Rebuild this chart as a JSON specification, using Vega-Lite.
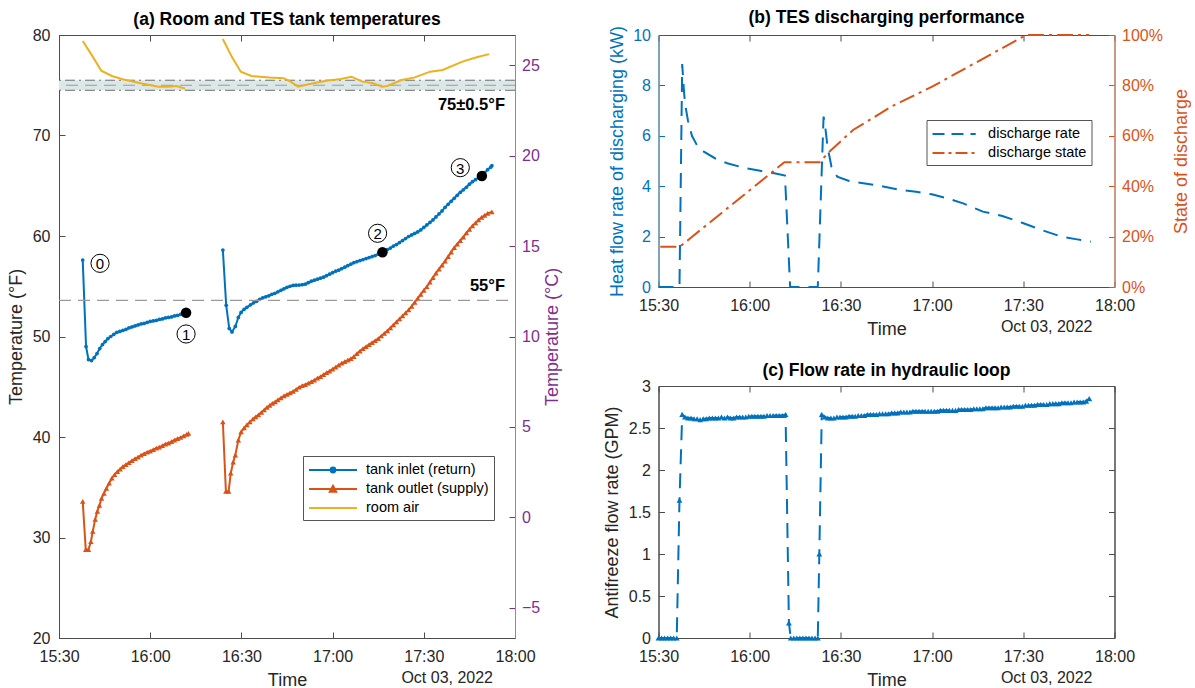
{
  "$schema": "https://vega.github.io/schema/vega-lite/v6.json",
  "background": "white",
  "padding": {"left": 6, "top": 8, "right": 0, "bottom": 0},
  "config": {
    "font": "Liberation Sans",
    "view": {"stroke": "#4d4d4d", "strokeWidth": 1},
    "axis": {"labelFont": "Liberation Sans", "labelFontSize": 16, "labelColor": "#262626", "titleFont": "Liberation Sans", "titleFontSize": 18, "titleFontWeight": "normal", "titleColor": "#262626", "domainColor": "#4d4d4d", "tickColor": "#4d4d4d", "tickSize": -6, "labelPadding": 16, "grid": false, "labelFlush": false, "labelOverlap": false},
    "title": {"font": "Liberation Sans", "fontSize": 17.5, "fontWeight": "bold", "color": "#000000", "offset": -1, "anchor": "middle"},
    "legend": {"labelFont": "Liberation Sans", "labelFontSize": 14.5, "labelColor": "#000000", "strokeColor": "#555555", "fillColor": "#ffffff", "padding": 5, "rowPadding": 3, "symbolStrokeWidth": 2}
  },
  "datasets": {
    "inlet": [
      {"m":7.8,"v":57.6,"g":1},{"m":8.9,"v":49.0,"g":1},{"m":9.7,"v":47.7,"g":1},{"m":10.7,"v":47.6,"g":1},{"m":11.6,"v":47.9,"g":1},{"m":12.5,"v":48.3,"g":1},{"m":13.4,"v":48.8,"g":1},{"m":14.3,"v":49.2,"g":1},{"m":15.2,"v":49.5,"g":1},{"m":16.1,"v":49.8,"g":1},{"m":17,"v":50.0,"g":1},{"m":18,"v":50.2,"g":1},{"m":19,"v":50.4,"g":1},{"m":20,"v":50.5,"g":1},{"m":21,"v":50.6,"g":1},{"m":22,"v":50.7,"g":1},{"m":23,"v":50.85,"g":1},{"m":24,"v":50.95,"g":1},{"m":25,"v":51.05,"g":1},{"m":26,"v":51.15,"g":1},{"m":27,"v":51.25,"g":1},{"m":28,"v":51.3,"g":1},{"m":29,"v":51.4,"g":1},{"m":30,"v":51.5,"g":1},{"m":31,"v":51.55,"g":1},{"m":32,"v":51.6,"g":1},{"m":33,"v":51.7,"g":1},{"m":34,"v":51.75,"g":1},{"m":35,"v":51.85,"g":1},{"m":36,"v":51.9,"g":1},{"m":37,"v":51.95,"g":1},{"m":38,"v":52.05,"g":1},{"m":39,"v":52.1,"g":1},{"m":40,"v":52.2,"g":1},{"m":41,"v":52.3,"g":1},{"m":41.8,"v":52.4,"g":1},{"m":42.6,"v":52.45,"g":1},
      {"m":53.9,"v":58.6,"g":2},{"m":55,"v":53.1,"g":2},{"m":56,"v":50.8,"g":2},{"m":56.9,"v":50.45,"g":2},{"m":58,"v":51.0,"g":2},{"m":59,"v":51.9,"g":2},{"m":59.9,"v":52.4,"g":2},{"m":60.9,"v":52.7,"g":2},{"m":61.8,"v":52.9,"g":2},
      {"m":63,"v":53.15,"g":2},{"m":64,"v":53.35,"g":2},{"m":65,"v":53.5,"g":2},{"m":66,"v":53.7,"g":2},{"m":67,"v":53.85,"g":2},{"m":68,"v":53.95,"g":2},{"m":69,"v":54.05,"g":2},{"m":70,"v":54.2,"g":2},{"m":71,"v":54.3,"g":2},{"m":72,"v":54.45,"g":2},{"m":73,"v":54.6,"g":2},{"m":74,"v":54.75,"g":2},{"m":75,"v":54.9,"g":2},{"m":76,"v":55.0,"g":2},{"m":77,"v":55.08,"g":2},{"m":78,"v":55.1,"g":2},{"m":79,"v":55.12,"g":2},{"m":80,"v":55.15,"g":2},{"m":81,"v":55.2,"g":2},{"m":82,"v":55.35,"g":2},{"m":83,"v":55.5,"g":2},{"m":84,"v":55.6,"g":2},{"m":85,"v":55.7,"g":2},{"m":86,"v":55.8,"g":2},{"m":87,"v":55.9,"g":2},{"m":88,"v":56.05,"g":2},{"m":89,"v":56.2,"g":2},{"m":90,"v":56.35,"g":2},{"m":91,"v":56.5,"g":2},{"m":92,"v":56.6,"g":2},{"m":93,"v":56.75,"g":2},{"m":94,"v":56.9,"g":2},{"m":95,"v":57.05,"g":2},{"m":96,"v":57.2,"g":2},{"m":97,"v":57.35,"g":2},{"m":98,"v":57.45,"g":2},{"m":99,"v":57.55,"g":2},{"m":100,"v":57.65,"g":2},{"m":101,"v":57.75,"g":2},{"m":102,"v":57.85,"g":2},{"m":103,"v":57.95,"g":2},{"m":104,"v":58.05,"g":2},{"m":105,"v":58.2,"g":2},{"m":106,"v":58.35,"g":2},{"m":107,"v":58.5,"g":2},{"m":108,"v":58.65,"g":2},{"m":109,"v":58.8,"g":2},{"m":110,"v":59.0,"g":2},{"m":111,"v":59.15,"g":2},{"m":112,"v":59.35,"g":2},{"m":113,"v":59.55,"g":2},{"m":114,"v":59.75,"g":2},{"m":115,"v":59.95,"g":2},{"m":116,"v":60.1,"g":2},{"m":117,"v":60.25,"g":2},{"m":118,"v":60.4,"g":2},{"m":119,"v":60.6,"g":2},{"m":120,"v":60.85,"g":2},{"m":121,"v":61.1,"g":2},{"m":122,"v":61.35,"g":2},{"m":123,"v":61.6,"g":2},{"m":124,"v":61.9,"g":2},{"m":125,"v":62.2,"g":2},{"m":126,"v":62.5,"g":2},{"m":127,"v":62.85,"g":2},{"m":128,"v":63.15,"g":2},{"m":129,"v":63.45,"g":2},{"m":130,"v":63.75,"g":2},{"m":131,"v":64.05,"g":2},{"m":132,"v":64.35,"g":2},{"m":133,"v":64.6,"g":2},{"m":134,"v":64.85,"g":2},{"m":135,"v":65.15,"g":2},{"m":136,"v":65.4,"g":2},{"m":137,"v":65.6,"g":2},{"m":138,"v":65.8,"g":2},{"m":139,"v":66.0,"g":2},{"m":140,"v":66.3,"g":2},{"m":141,"v":66.6,"g":2},{"m":142,"v":66.85,"g":2},{"m":142.4,"v":67.0,"g":2}
    ],
    "outlet": [
      {"m":7.8,"v":33.6,"g":1},{"m":8.8,"v":28.8,"g":1},{"m":9.7,"v":28.8,"g":1},{"m":10.5,"v":29.6,"g":1},{"m":11.1,"v":30.6,"g":1},{"m":11.9,"v":31.8,"g":1},{"m":12.6,"v":32.6,"g":1},{"m":13.3,"v":33.2,"g":1},{"m":14,"v":33.9,"g":1},{"m":14.8,"v":34.4,"g":1},{"m":15.6,"v":34.9,"g":1},{"m":16.5,"v":35.4,"g":1},{"m":17.4,"v":35.9,"g":1},{"m":18.3,"v":36.25,"g":1},{"m":19.2,"v":36.55,"g":1},{"m":20.1,"v":36.8,"g":1},{"m":21,"v":37.05,"g":1},{"m":22,"v":37.25,"g":1},{"m":23,"v":37.45,"g":1},{"m":24,"v":37.65,"g":1},{"m":25,"v":37.85,"g":1},{"m":26,"v":38.0,"g":1},{"m":27,"v":38.2,"g":1},{"m":28,"v":38.35,"g":1},{"m":29,"v":38.5,"g":1},{"m":30,"v":38.6,"g":1},{"m":31,"v":38.75,"g":1},{"m":32,"v":38.9,"g":1},{"m":33,"v":39.0,"g":1},{"m":34,"v":39.15,"g":1},{"m":35,"v":39.3,"g":1},{"m":36,"v":39.4,"g":1},{"m":37,"v":39.55,"g":1},{"m":38,"v":39.7,"g":1},{"m":39,"v":39.85,"g":1},{"m":40,"v":39.95,"g":1},{"m":41,"v":40.1,"g":1},{"m":42,"v":40.25,"g":1},{"m":42.6,"v":40.35,"g":1},
      {"m":53.9,"v":41.5,"g":2},{"m":54.9,"v":34.6,"g":2},{"m":55.8,"v":34.6,"g":2},{"m":56.5,"v":36.4,"g":2},{"m":57.3,"v":37.5,"g":2},{"m":58,"v":38.2,"g":2},{"m":59,"v":39.7,"g":2},{"m":59.9,"v":40.5,"g":2},{"m":60.9,"v":40.9,"g":2},{"m":61.8,"v":41.2,"g":2},{"m":62.8,"v":41.5,"g":2},{"m":63.8,"v":41.8,"g":2},{"m":64.7,"v":42.0,"g":2},{"m":65.6,"v":42.2,"g":2},{"m":66.6,"v":42.45,"g":2},{"m":67.5,"v":42.7,"g":2},{"m":68.4,"v":42.95,"g":2},{"m":69.3,"v":43.15,"g":2},{"m":70.2,"v":43.35,"g":2},{"m":71.1,"v":43.5,"g":2},
      {"m":72,"v":43.7,"g":2},{"m":73,"v":43.9,"g":2},{"m":74,"v":44.1,"g":2},{"m":75,"v":44.25,"g":2},{"m":76,"v":44.4,"g":2},{"m":77,"v":44.55,"g":2},{"m":78,"v":44.75,"g":2},{"m":79,"v":44.95,"g":2},{"m":80,"v":45.1,"g":2},{"m":81,"v":45.2,"g":2},{"m":82,"v":45.35,"g":2},{"m":83,"v":45.5,"g":2},{"m":84,"v":45.65,"g":2},{"m":85,"v":45.85,"g":2},{"m":86,"v":46.0,"g":2},{"m":87,"v":46.2,"g":2},{"m":88,"v":46.4,"g":2},{"m":89,"v":46.55,"g":2},{"m":90,"v":46.75,"g":2},{"m":91,"v":46.95,"g":2},{"m":92,"v":47.15,"g":2},{"m":93,"v":47.35,"g":2},{"m":94,"v":47.5,"g":2},{"m":95,"v":47.65,"g":2},{"m":96,"v":47.8,"g":2},{"m":97,"v":48.0,"g":2},{"m":98,"v":48.3,"g":2},{"m":99,"v":48.55,"g":2},{"m":100,"v":48.8,"g":2},{"m":101,"v":49.0,"g":2},{"m":102,"v":49.2,"g":2},{"m":103,"v":49.4,"g":2},{"m":104,"v":49.6,"g":2},{"m":105,"v":49.8,"g":2},{"m":106,"v":50.05,"g":2},{"m":107,"v":50.3,"g":2},{"m":108,"v":50.55,"g":2},{"m":109,"v":50.85,"g":2},{"m":110,"v":51.15,"g":2},{"m":111,"v":51.45,"g":2},{"m":112,"v":51.75,"g":2},{"m":113,"v":52.05,"g":2},{"m":114,"v":52.35,"g":2},{"m":115,"v":52.65,"g":2},{"m":116,"v":53.0,"g":2},{"m":117,"v":53.4,"g":2},{"m":118,"v":53.8,"g":2},{"m":119,"v":54.2,"g":2},{"m":120,"v":54.6,"g":2},{"m":121,"v":54.95,"g":2},{"m":122,"v":55.4,"g":2},{"m":123,"v":55.85,"g":2},{"m":124,"v":56.3,"g":2},{"m":125,"v":56.7,"g":2},{"m":126,"v":57.1,"g":2},{"m":127,"v":57.5,"g":2},{"m":128,"v":57.95,"g":2},{"m":129,"v":58.4,"g":2},{"m":130,"v":58.85,"g":2},{"m":131,"v":59.2,"g":2},{"m":132,"v":59.55,"g":2},{"m":133,"v":59.9,"g":2},{"m":134,"v":60.3,"g":2},{"m":135,"v":60.65,"g":2},{"m":136,"v":61.0,"g":2},{"m":137,"v":61.3,"g":2},{"m":138,"v":61.6,"g":2},{"m":139,"v":61.85,"g":2},{"m":140,"v":62.05,"g":2},{"m":141,"v":62.25,"g":2},{"m":142.4,"v":62.4,"g":2}
    ]
  },
  "hconcat": [
    {
      "width": 456,
      "height": 603,
      "title": {"text": "(a) Room and TES tank temperatures"},
      "layer": [
        {
          "layer": [
            {
              "data": {"values": [{"m0": 0, "m1": 150, "lo": 74.5, "hi": 75.5}]},
              "mark": {"type": "rect", "color": "#dce8e8"},
              "encoding": {
                "x": {"field": "m0", "type": "quantitative", "scale": {"domain": [0, 150], "nice": false, "zero": false}, "axis": {"values": [0, 30, 60, 90, 120, 150], "labelExpr": "['15:30','16:00','16:30','17:00','17:30','18:00'][round(datum.value/30)]", "title": "Time", "titlePadding": 7}},
                "x2": {"field": "m1"},
                "y": {"field": "lo", "type": "quantitative", "scale": {"domain": [20, 80], "nice": false, "zero": false}, "axis": {"values": [20, 30, 40, 50, 60, 70, 80], "title": "Temperature (°F)", "titlePadding": 7, "labelPadding": 15}},
                "y2": {"field": "hi"}
              }
            },
            {
              "data": {"values": [{"y": 74.5}, {"y": 75.5}]},
              "mark": {"type": "rule", "color": "#6e6e6e", "strokeWidth": 1, "strokeDash": [10, 4, 2, 4]},
              "encoding": {"y": {"field": "y", "type": "quantitative"}}
            },
            {
              "data": {"values": [{"y": 75}]},
              "mark": {"type": "rule", "color": "#9a9a9a", "strokeWidth": 1, "strokeDash": [12, 7]},
              "encoding": {"y": {"field": "y", "type": "quantitative"}}
            },
            {
              "data": {"values": [
                {"m":7.8,"v":79.4,"g":1},{"m":11.1,"v":77.85,"g":1},{"m":13.9,"v":76.45,"g":1},{"m":17.4,"v":75.92,"g":1},{"m":20.9,"v":75.59,"g":1},{"m":26.8,"v":75.19,"g":1},{"m":32.7,"v":74.86,"g":1},{"m":36.2,"v":74.86,"g":1},{"m":38.6,"v":74.93,"g":1},{"m":41.5,"v":74.66,"g":1},
                {"m":53.9,"v":79.6,"g":2},{"m":56.8,"v":77.85,"g":2},{"m":59.8,"v":76.35,"g":2},{"m":63.3,"v":75.92,"g":2},{"m":69.2,"v":75.76,"g":2},{"m":73.9,"v":75.69,"g":2},{"m":76.2,"v":75.36,"g":2},{"m":78.6,"v":74.86,"g":2},{"m":82.1,"v":75.09,"g":2},{"m":88,"v":75.45,"g":2},{"m":92.7,"v":75.62,"g":2},{"m":96.2,"v":75.85,"g":2},{"m":97.4,"v":75.69,"g":2},{"m":99.8,"v":75.36,"g":2},{"m":103.3,"v":75.19,"g":2},{"m":106.3,"v":74.86,"g":2},{"m":108,"v":74.93,"g":2},{"m":112.7,"v":75.52,"g":2},{"m":116.8,"v":75.76,"g":2},{"m":122.1,"v":76.35,"g":2},{"m":126.2,"v":76.52,"g":2},{"m":132.7,"v":77.35,"g":2},{"m":137.4,"v":77.78,"g":2},{"m":141.5,"v":78.1,"g":2}
              ]},
              "mark": {"type": "line", "strokeWidth": 2},
              "encoding": {
                "x": {"field": "m", "type": "quantitative"},
                "y": {"field": "v", "type": "quantitative"},
                "detail": {"field": "g", "type": "nominal"},
                "color": {"datum": "air", "scale": {"domain": ["in", "out", "air"], "range": ["#0072BD", "#D95319", "#EDB120"]},
                  "legend": {"title": null, "orient": "none", "legendX": 244, "legendY": 421, "symbolSize": 256, "symbolOffset": 16, "labelOffset": 24,
                    "labelExpr": "datum.value == 'in' ? 'tank inlet (return)' : datum.value == 'out' ? 'tank outlet (supply)' : 'room air'",
                    "encode": {"symbols": {"update": {
                      "shape": {"signal": "datum.value == 'in' ? 'M-3,0H3M-0.3,0A0.3,0.3 0 1,0 0.3,0A0.3,0.3 0 1,0 -0.3,0Z' : datum.value == 'out' ? 'M-3,0H3M-0.4,0.35L0,-0.4L0.4,0.35Z' : 'M-3,0H3'"},
                      "fill": {"signal": "datum.value == 'in' ? '#0072BD' : datum.value == 'out' ? '#D95319' : 'transparent'"}}}}}}
              }
            },
            {
              "data": {"name": "inlet"},
              "mark": {"type": "line", "strokeWidth": 2, "color": "#0072BD"},
              "encoding": {"x": {"field": "m", "type": "quantitative"}, "y": {"field": "v", "type": "quantitative"}, "detail": {"field": "g", "type": "nominal"}}
            },
            {
              "data": {"name": "outlet"},
              "mark": {"type": "line", "strokeWidth": 2, "color": "#D95319"},
              "encoding": {"x": {"field": "m", "type": "quantitative"}, "y": {"field": "v", "type": "quantitative"}, "detail": {"field": "g", "type": "nominal"}}
            },
            {
              "data": {"name": "inlet"},
              "mark": {"type": "point", "shape": "circle", "filled": true, "size": 14, "color": "#0072BD", "opacity": 1},
              "encoding": {"x": {"field": "m", "type": "quantitative"}, "y": {"field": "v", "type": "quantitative"}}
            },
            {
              "data": {"name": "outlet"},
              "mark": {"type": "point", "shape": "triangle-up", "filled": true, "size": 30, "color": "#D95319", "opacity": 1},
              "encoding": {"x": {"field": "m", "type": "quantitative"}, "y": {"field": "v", "type": "quantitative"}}
            },
            {
              "data": {"values": [{"m": 41.8, "v": 52.37}, {"m": 106.4, "v": 58.38}, {"m": 139.1, "v": 65.97}]},
              "mark": {"type": "point", "shape": "circle", "filled": true, "size": 110, "color": "#000000", "opacity": 1},
              "encoding": {"x": {"field": "m", "type": "quantitative"}, "y": {"field": "v", "type": "quantitative"}}
            },
            {
              "data": {"values": [{"m": 13.5, "v": 57.28, "n": "0"}, {"m": 41.8, "v": 50.25, "n": "1"}, {"m": 104.8, "v": 60.27, "n": "2"}, {"m": 132, "v": 66.8, "n": "3"}]},
              "layer": [
                {"mark": {"type": "point", "shape": "circle", "filled": false, "size": 330, "stroke": "#000000", "strokeWidth": 1, "opacity": 1},
                 "encoding": {"x": {"field": "m", "type": "quantitative"}, "y": {"field": "v", "type": "quantitative"}}},
                {"mark": {"type": "text", "fontSize": 15, "color": "#000000", "align": "center", "baseline": "middle", "dy": 1},
                 "encoding": {"x": {"field": "m", "type": "quantitative"}, "y": {"field": "v", "type": "quantitative"}, "text": {"field": "n"}}}
              ]
            },
            {
              "data": {"values": [{"m": 146.7, "v": 73.0, "s": "75±0.5°F"}, {"m": 146.7, "v": 55.0, "s": "55°F"}]},
              "mark": {"type": "text", "fontSize": 16.5, "fontWeight": "bold", "color": "#000000", "align": "right", "baseline": "middle"},
              "encoding": {"x": {"field": "m", "type": "quantitative"}, "y": {"field": "v", "type": "quantitative"}, "text": {"field": "s"}}
            },
            {
              "data": {"values": [{"m": 120, "v": 20, "s": "Oct 03, 2022"}]},
              "mark": {"type": "text", "fontSize": 16, "color": "#262626", "align": "left", "baseline": "middle", "dx": -22.4, "dy": 40},
              "encoding": {"x": {"field": "m", "type": "quantitative"}, "y": {"field": "v", "type": "quantitative"}, "text": {"field": "s"}}
            }
          ]
        },
        {
          "data": {"values": [{"m0": 0, "m1": 150, "c": 12}]},
          "mark": {"type": "rule", "color": "#9a9a9a", "strokeWidth": 1.2, "strokeDash": [12, 7]},
          "encoding": {
            "x": {"field": "m0", "type": "quantitative", "axis": {"orient": "top", "labels": false, "title": null, "values": [0, 30, 60, 90, 120, 150]}},
            "x2": {"field": "m1"},
            "y": {"field": "c", "type": "quantitative", "scale": {"domain": [-6.6667, 26.6667], "nice": false, "zero": false}, "axis": {"orient": "right", "values": [-5, 0, 5, 10, 15, 20, 25], "title": "Temperature (°C)", "titleAngle": 270, "titleBaseline": "top", "titlePadding": 4, "labelPadding": 12.5, "labelColor": "#7E2F8E", "titleColor": "#7E2F8E", "domainColor": "#A878B4", "tickColor": "#7E2F8E"}}
          }
        }
      ],
      "resolve": {"scale": {"y": "independent"}, "axis": {"x": "independent", "y": "independent"}}
    },
    {
      "vconcat": [
        {
          "width": 456,
          "height": 252,
          "title": {"text": "(b) TES discharging performance"},
          "layer": [
            {
              "layer": [
                {
                  "data": {"values": [
                    {"m":0,"v":0},{"m":5.2,"v":0},{"m":6.9,"v":0},{"m":7.8,"v":8.85},{"m":8.3,"v":7.9},{"m":8.7,"v":7.3},{"m":9.7,"v":6.6},{"m":11,"v":6.0},{"m":12.9,"v":5.57},{"m":14.9,"v":5.37},{"m":18.7,"v":5.1},{"m":22.6,"v":4.91},{"m":27.8,"v":4.74},{"m":33,"v":4.62},{"m":38.1,"v":4.51},{"m":41.6,"v":4.42},{"m":43.3,"v":0},{"m":52.4,"v":0},{"m":54.3,"v":6.76},{"m":54.7,"v":6.5},{"m":55.6,"v":5.57},{"m":56.9,"v":4.77},{"m":58.8,"v":4.38},{"m":62.7,"v":4.21},{"m":67.9,"v":4.11},{"m":74.3,"v":3.98},{"m":79.5,"v":3.85},{"m":84.7,"v":3.78},{"m":89.9,"v":3.68},{"m":95,"v":3.52},{"m":100.2,"v":3.32},{"m":106.7,"v":2.99},{"m":113.1,"v":2.82},{"m":119.6,"v":2.55},{"m":126.1,"v":2.26},{"m":132.5,"v":2.0},{"m":137.7,"v":1.89},{"m":142.2,"v":1.8}
                  ]},
                  "mark": {"type": "line", "strokeWidth": 2, "strokeDash": [15, 9]},
                  "encoding": {
                    "x": {"field": "m", "type": "quantitative", "scale": {"domain": [0, 150], "nice": false, "zero": false}, "axis": {"values": [0, 30, 60, 90, 120, 150], "labelExpr": "['15:30','16:00','16:30','17:00','17:30','18:00'][round(datum.value/30)]", "title": "Time", "titlePadding": 7}},
                    "y": {"field": "v", "type": "quantitative", "scale": {"domain": [0, 10], "nice": false}, "axis": {"values": [0, 2, 4, 6, 8, 10], "title": "Heat flow rate of discharging (kW)", "titlePadding": 6, "labelPadding": 14, "labelColor": "#0072BD", "titleColor": "#0072BD", "domainColor": "#5DA1D6", "tickColor": "#0072BD"}},
                    "color": {"datum": "discharge rate", "scale": {"domain": ["discharge rate", "discharge state"], "range": ["#0072BD", "#D95319"]},
                      "legend": {"title": null, "orient": "none", "legendX": 268, "legendY": 85, "symbolSize": 256, "symbolOffset": 13.6, "labelOffset": 25,
                        "encode": {"symbols": {"update": {"shape": {"value": "M-2.7,0H2.7"}, "fill": {"value": "transparent"}, "strokeDash": {"signal": "datum.value == 'discharge rate' ? [12, 7] : [12, 4, 3, 4]"}}}}}}
                  }
                },
                {
                  "data": {"values": [{"m": 120, "v": 0, "s": "Oct 03, 2022"}]},
                  "mark": {"type": "text", "fontSize": 16, "color": "#262626", "align": "left", "baseline": "middle", "dx": -22.4, "dy": 40},
                  "encoding": {"x": {"field": "m", "type": "quantitative"}, "y": {"field": "v", "type": "quantitative"}, "text": {"field": "s"}}
                }
              ]
            },
            {
              "data": {"values": [
                {"m":0.6,"p":0.16},{"m":7,"p":0.16},{"m":41.4,"p":0.495},{"m":53,"p":0.495},{"m":56.2,"p":0.537},{"m":64,"p":0.623},{"m":76.9,"p":0.718},{"m":90,"p":0.795},{"m":102.8,"p":0.88},{"m":120.2,"p":0.995},{"m":121,"p":1.0},{"m":141.6,"p":1.0}
              ]},
              "mark": {"type": "line", "strokeWidth": 2, "strokeDash": [16, 5, 3, 5], "color": "#D95319"},
              "encoding": {
                "x": {"field": "m", "type": "quantitative", "axis": {"orient": "top", "labels": false, "title": null, "values": [0, 30, 60, 90, 120, 150]}},
                "y": {"field": "p", "type": "quantitative", "scale": {"domain": [0, 1], "nice": false}, "axis": {"orient": "right", "values": [0, 0.2, 0.4, 0.6, 0.8, 1], "format": ".0%", "title": "State of discharge", "titleAngle": 270, "titleBaseline": "top", "titlePadding": 10, "labelPadding": 13, "labelColor": "#D95319", "titleColor": "#D95319", "domainColor": "#E8916A", "tickColor": "#D95319"}}
              }
            }
          ],
          "resolve": {"scale": {"y": "independent"}, "axis": {"x": "independent", "y": "independent"}}
        },
        {
          "width": 456,
          "height": 252,
          "title": {"text": "(c) Flow rate in hydraulic loop"},
          "layer": [
            {
              "layer": [
                {
                  "data": {"values": [
                    {"m":0,"f":0},{"m":1,"f":0},{"m":2,"f":0},{"m":3,"f":0},{"m":4,"f":0},{"m":5,"f":0},{"m":6,"f":0},{"m":6.9,"f":1.64},{"m":7.8,"f":2.66},
                    {"m":8.7,"f":2.63},{"m":9.7,"f":2.62},{"m":10.7,"f":2.62},{"m":11.7,"f":2.61},{"m":12.7,"f":2.61},{"m":13.7,"f":2.6},{"m":14.7,"f":2.61},{"m":15.7,"f":2.61},{"m":16.7,"f":2.62},{"m":17.7,"f":2.62},{"m":18.7,"f":2.62},{"m":19.7,"f":2.62},{"m":20.7,"f":2.63},{"m":21.7,"f":2.62},{"m":22.7,"f":2.63},{"m":23.7,"f":2.62},{"m":24.7,"f":2.62},{"m":25.7,"f":2.63},{"m":26.7,"f":2.63},{"m":27.7,"f":2.63},{"m":28.7,"f":2.63},{"m":29.7,"f":2.64},{"m":30.7,"f":2.64},{"m":31.7,"f":2.64},{"m":32.7,"f":2.64},{"m":33.7,"f":2.64},{"m":34.7,"f":2.64},{"m":35.7,"f":2.65},{"m":36.7,"f":2.65},{"m":37.7,"f":2.65},{"m":38.7,"f":2.65},{"m":39.7,"f":2.65},{"m":40.7,"f":2.65},{"m":41.8,"f":2.66},
                    {"m":42.9,"f":0.18},{"m":43.5,"f":0},{"m":44.5,"f":0},{"m":45.5,"f":0},{"m":46.5,"f":0},{"m":47.5,"f":0},{"m":48.5,"f":0},{"m":49.5,"f":0},{"m":50.5,"f":0},{"m":51.5,"f":0},{"m":52.4,"f":0},{"m":52.9,"f":1.0},{"m":53.7,"f":2.66},
                    {"m":54.7,"f":2.63},{"m":55.7,"f":2.62},{"m":56.7,"f":2.62},{"m":57.7,"f":2.62},{"m":58.7,"f":2.63},{"m":59.7,"f":2.63},
                    {"m":60.7,"f":2.63},{"m":61.7,"f":2.63},{"m":62.7,"f":2.64},{"m":63.7,"f":2.64},{"m":64.7,"f":2.64},{"m":65.7,"f":2.65},{"m":66.7,"f":2.65},{"m":67.7,"f":2.65},{"m":68.7,"f":2.66},{"m":69.7,"f":2.66},
                    {"m":70.7,"f":2.66},{"m":71.7,"f":2.66},{"m":72.7,"f":2.67},{"m":73.7,"f":2.67},{"m":74.7,"f":2.67},{"m":75.7,"f":2.67},{"m":76.7,"f":2.68},{"m":77.7,"f":2.68},{"m":78.7,"f":2.68},{"m":79.7,"f":2.69},
                    {"m":80.7,"f":2.69},{"m":81.7,"f":2.69},{"m":82.7,"f":2.69},{"m":83.7,"f":2.7},{"m":84.7,"f":2.7},{"m":85.7,"f":2.7},{"m":86.7,"f":2.7},{"m":87.7,"f":2.7},{"m":88.7,"f":2.7},{"m":89.7,"f":2.7},
                    {"m":90.7,"f":2.7},{"m":91.7,"f":2.7},{"m":92.7,"f":2.71},{"m":93.7,"f":2.71},{"m":94.7,"f":2.71},{"m":95.7,"f":2.71},{"m":96.7,"f":2.71},{"m":97.7,"f":2.71},{"m":98.7,"f":2.72},{"m":99.7,"f":2.72},
                    {"m":100.7,"f":2.72},{"m":101.7,"f":2.72},{"m":102.7,"f":2.72},{"m":103.7,"f":2.73},{"m":104.7,"f":2.73},{"m":105.7,"f":2.73},{"m":106.7,"f":2.73},{"m":107.7,"f":2.74},{"m":108.7,"f":2.74},{"m":109.7,"f":2.74},
                    {"m":110.7,"f":2.74},{"m":111.7,"f":2.74},{"m":112.7,"f":2.75},{"m":113.7,"f":2.75},{"m":114.7,"f":2.75},{"m":115.7,"f":2.75},{"m":116.7,"f":2.76},{"m":117.7,"f":2.76},{"m":118.7,"f":2.76},{"m":119.7,"f":2.76},
                    {"m":120.7,"f":2.77},{"m":121.7,"f":2.77},{"m":122.7,"f":2.77},{"m":123.7,"f":2.77},{"m":124.7,"f":2.78},{"m":125.7,"f":2.78},{"m":126.7,"f":2.78},{"m":127.7,"f":2.78},{"m":128.7,"f":2.79},{"m":129.7,"f":2.79},
                    {"m":130.7,"f":2.79},{"m":131.7,"f":2.79},{"m":132.7,"f":2.8},{"m":133.7,"f":2.8},{"m":134.7,"f":2.8},{"m":135.7,"f":2.8},{"m":136.7,"f":2.81},{"m":137.7,"f":2.81},{"m":138.7,"f":2.81},{"m":139.7,"f":2.81},
                    {"m":140.7,"f":2.82},{"m":141.7,"f":2.85}
                  ]},
                  "mark": {"type": "line", "strokeWidth": 2, "strokeDash": [15, 9], "color": "#0072BD", "point": {"shape": "triangle-up", "filled": true, "size": 34, "color": "#0072BD"}},
                  "encoding": {
                    "x": {"field": "m", "type": "quantitative", "scale": {"domain": [0, 150], "nice": false, "zero": false}, "axis": {"values": [0, 30, 60, 90, 120, 150], "labelExpr": "['15:30','16:00','16:30','17:00','17:30','18:00'][round(datum.value/30)]", "title": "Time", "titlePadding": 7}},
                    "y": {"field": "f", "type": "quantitative", "scale": {"domain": [0, 3], "nice": false}, "axis": {"values": [0, 0.5, 1, 1.5, 2, 2.5, 3], "format": "~g", "title": "Antifreeze flow rate (GPM)", "titlePadding": 7, "labelPadding": 14}}
                  }
                },
                {
                  "data": {"values": [{"m": 120, "v": 0, "s": "Oct 03, 2022"}]},
                  "mark": {"type": "text", "fontSize": 16, "color": "#262626", "align": "left", "baseline": "middle", "dx": -22.4, "dy": 40},
                  "encoding": {"x": {"field": "m", "type": "quantitative"}, "y": {"field": "v", "type": "quantitative"}, "text": {"field": "s"}}
                }
              ]
            },
            {
              "data": {"values": [{"m": 0, "f": 0}, {"m": 150, "f": 3}]},
              "mark": {"type": "line", "opacity": 0},
              "encoding": {
                "x": {"field": "m", "type": "quantitative", "axis": {"orient": "top", "labels": false, "title": null, "values": [0, 30, 60, 90, 120, 150]}},
                "y": {"field": "f", "type": "quantitative", "scale": {"domain": [0, 3], "nice": false}, "axis": {"orient": "right", "labels": false, "title": null, "values": [0, 0.5, 1, 1.5, 2, 2.5, 3]}}
              }
            }
          ],
          "resolve": {"scale": {"y": "independent"}, "axis": {"x": "independent", "y": "independent"}}
        }
      ],
      "spacing": 99,
      "bounds": "flush",
      "resolve": {"scale": {"color": "independent"}, "legend": {"color": "independent"}}
    }
  ],
  "spacing": 143.5,
  "bounds": "flush",
  "resolve": {"scale": {"color": "independent"}, "legend": {"color": "independent"}}
}
